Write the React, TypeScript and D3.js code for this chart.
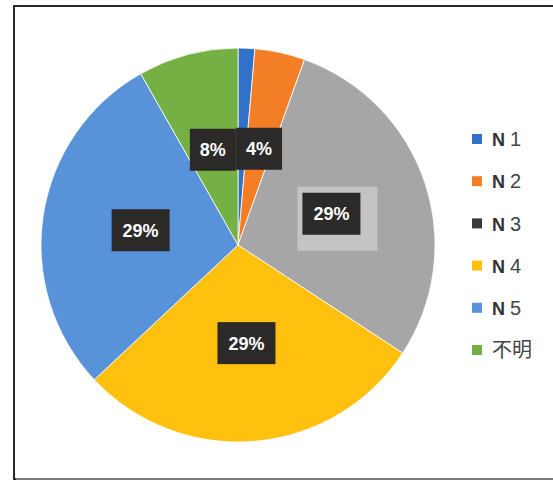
import React from "react";
import * as d3 from "d3";

const categories = ["N 1", "N 2", "N 3", "N 4", "N 5", "不明"];
const counts = [1, 3, 21, 21, 21, 6];
const colors = ["#2f72c8", "#f47e26", "#a6a6a6", "#ffc10e", "#5892d8", "#74b043"];
// the N 1 label (1%) is hidden behind its neighbours in the reference
const shownLabels = [1, 2, 3, 4, 5];

const W = 553;
const H = 481;
const cx = 238;
const cy = 245;
const R = 197;

export default function App() {
  const total = d3.sum(counts);
  const pie = d3.pie<number>().sort(null).value((d) => d)(counts);
  const arc = d3.arc<d3.PieArcDatum<number>>().innerRadius(0).outerRadius(R);
  const labelArc = d3.arc<d3.PieArcDatum<number>>().innerRadius(R * 0.5).outerRadius(R * 0.5);
  const legendY = d3.scaleLinear().domain([0, 5]).range([139, 350]);

  return (
    <svg width={W} height={H} style={{ position: "absolute", left: 0, top: 0, background: "#fff" }}>
      <rect x={0} y={0} width={W} height={H} fill="#fff" />
      <path d={`M ${W + 5} 6 L 14 6 L 14 479 L ${W + 5} 479`} fill="none" stroke="#2a2a2a" strokeWidth={2} />
      <line x1={16} x2={W} y1={479} y2={479} stroke="#d0d0d0" strokeWidth={1} />
      <g transform={`translate(${cx},${cy})`}>
        {pie.map((p, i) => (
          <path key={i} d={arc(p) || ""} fill={colors[i]} stroke="#ffffff" strokeWidth={0.8} />
        ))}
        {shownLabels.map((i) => {
          const p = pie[i];
          const [lx, ly] = labelArc.centroid(p);
          const txt = `${Math.round((counts[i] / total) * 100)}%`;
          const w = txt.length >= 3 ? 58 : 46;
          const h = 42;
          return (
            <g key={`l${i}`} transform={`translate(${lx},${ly})`}>
              {i === 2 && (
                <rect x={-w / 2 - 5} y={-h / 2 - 6} width={w + 22} height={h + 22} fill="#c4c4c4" />
              )}
              <rect x={-w / 2} y={-h / 2} width={w} height={h} fill="#2b2a29" />
              <text
                x={0}
                y={0}
                dy="0.36em"
                textAnchor="middle"
                fill="#ffffff"
                fontFamily="Liberation Sans, Arial, sans-serif"
                fontWeight="bold"
                fontSize={18}
              >
                {txt}
              </text>
            </g>
          );
        })}
      </g>
      <g>
        {categories.map((c, i) => (
          <g key={c} transform={`translate(472,${legendY(i)})`}>
            <rect x={0} y={-5} width={10} height={10} fill={i === 2 ? "#3a3a3a" : colors[i]} />
            <text
              x={20}
              y={0}
              dy="0.36em"
              fill="#333"
              fontFamily="Liberation Sans, 'Noto Sans CJK JP', sans-serif"
              fontSize={20}
            >
              {c.startsWith("N") ? (
                <>
                  <tspan fontWeight="bold" fontSize={18}>N</tspan>
                  <tspan dx={5} fill="#444">{c.slice(2)}</tspan>
                </>
              ) : (
                <tspan fontFamily="'Noto Sans CJK JP', sans-serif" fill="#444">{c}</tspan>
              )}
            </text>
          </g>
        ))}
      </g>
    </svg>
  );
}
